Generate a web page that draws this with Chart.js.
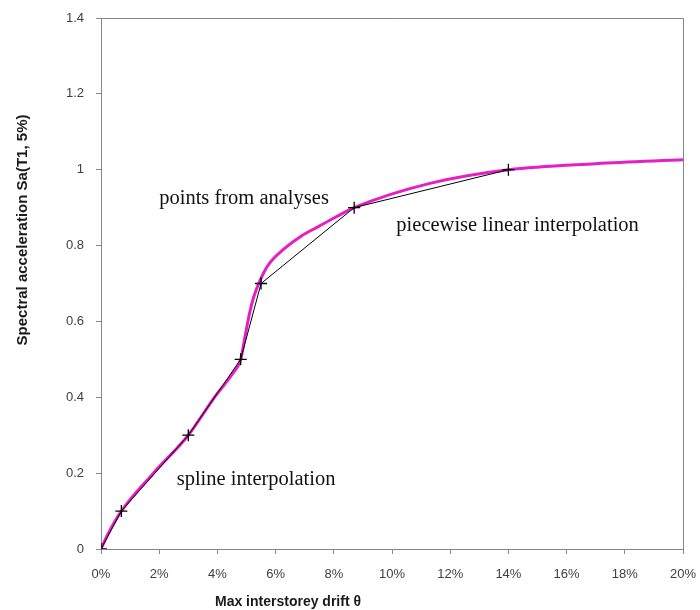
<!DOCTYPE html>
<html>
<head>
<meta charset="utf-8">
<script src="https://cdn.jsdelivr.net/npm/chart.js@4/dist/chart.umd.min.js"></script>
<style>
  body { margin: 0; background: #fff; }
  #wrap { width: 700px; height: 610px; }
</style>
</head>
<body>
<div id="wrap"><canvas id="chart" width="700" height="610"></canvas></div>
<script>
// analysis points (drift in %, Sa in g)
const driftPts = [0, 0.7, 3.0, 4.8, 5.5, 8.7, 14.0];
const saPts = [0, 0.1, 0.3, 0.5, 0.7, 0.9, 1.0];

// spline curve
const splineDrift = [0, 0.25, 0.7, 1.8, 3.0, 3.9, 4.5, 4.8, 4.95, 5.1, 5.25, 5.46, 5.75, 6.32, 6.9, 7.47, 8.04, 8.7, 11.3, 14.0, 17.0, 20.0];
const splineSa = [0, 0.041, 0.1, 0.2, 0.3, 0.4, 0.46, 0.5, 0.56, 0.62, 0.665, 0.707, 0.749, 0.793, 0.826, 0.85, 0.874, 0.9, 0.964, 1.0, 1.016, 1.026];

const xTicks = [0, 2, 4, 6, 8, 10, 12, 14, 16, 18, 20];
const yTicks = [0, 0.2, 0.4, 0.6, 0.8, 1, 1.2, 1.4];

const notes = [
  { text: "points from analyses", x: 2.0, y: 0.91 },
  { text: "piecewise linear interpolation", x: 10.15, y: 0.838 },
  { text: "spline interpolation", x: 2.6, y: 0.169 }
];

const axisGray = "#868686";
const tickFont = { family: "Liberation Sans", size: 13 };

const framePlugin = {
  id: "frame",
  afterDraw(chart) {
    const { ctx, chartArea, scales } = chart;
    ctx.save();
    // top and right border of the plot area
    ctx.strokeStyle = axisGray;
    ctx.lineWidth = 1;
    ctx.beginPath();
    ctx.moveTo(chartArea.left, chartArea.top + 0.5);
    ctx.lineTo(chartArea.right + 0.5, chartArea.top + 0.5);
    ctx.lineTo(chartArea.right + 0.5, chartArea.bottom);
    ctx.stroke();

    // notes
    ctx.fillStyle = "#111";
    ctx.font = "20.5px 'Liberation Serif'";
    ctx.textAlign = "left";
    ctx.textBaseline = "alphabetic";
    notes.forEach(n => {
      ctx.fillText(n.text, scales.x.getPixelForValue(n.x), scales.y.getPixelForValue(n.y));
    });

    // axis titles
    ctx.fillStyle = "#1a1a1a";
    ctx.font = "bold 14px 'Liberation Sans'";
    ctx.textAlign = "center";
    ctx.textBaseline = "middle";
    ctx.fillText("Max interstorey drift \u03b8", 288, 602);
    ctx.font = "bold 15px 'Liberation Sans'";
    ctx.translate(23, 230);
    ctx.rotate(-Math.PI / 2);
    ctx.fillText("Spectral acceleration Sa(T1, 5%)", 0, 0);
    ctx.restore();
  }
};

new Chart(document.getElementById("chart"), {
  type: "line",
  data: {
    datasets: [
      {
        label: "points from analyses",
        data: driftPts.map((d, i) => ({ x: d, y: saPts[i] })),
        borderColor: "#000",
        borderWidth: 1,
        pointStyle: "cross",
        pointRadius: 6,
        pointBorderColor: "#000",
        pointBorderWidth: 1.3,
        tension: 0
      },
      {
        label: "spline interpolation",
        data: splineDrift.map((d, i) => ({ x: d, y: splineSa[i] })),
        borderColor: "#e61ec4",
        borderWidth: 3,
        pointRadius: 0,
        cubicInterpolationMode: "monotone"
      }
    ]
  },
  options: {
    responsive: false,
    animation: false,
    layout: { padding: { top: 18, right: 17, left: 0, bottom: 0 } },
    plugins: {
      legend: { display: false },
      tooltip: { enabled: false }
    },
    scales: {
      x: {
        type: "linear",
        min: 0,
        max: 20,
        afterFit: s => { s.height = 61; s.paddingLeft = 0; s.paddingRight = 0; },
        afterBuildTicks: s => { s.ticks = xTicks.map(v => ({ value: v })); },
        grid: { display: true, drawOnChartArea: false, drawTicks: true, tickLength: 5, color: axisGray },
        border: { color: axisGray },
        ticks: { color: "#404040", font: tickFont, padding: 13, callback: v => v + "%" }
      },
      y: {
        min: 0,
        max: 1.4,
        afterFit: s => { s.width = 101; s.paddingTop = 0; s.paddingBottom = 0; },
        afterBuildTicks: s => { s.ticks = yTicks.map(v => ({ value: v })); },
        grid: { display: true, drawOnChartArea: false, drawTicks: true, tickLength: 5, color: axisGray },
        border: { color: axisGray },
        ticks: { color: "#404040", font: tickFont, padding: 12, callback: v => String(Number(v.toFixed(1))) }
      }
    }
  },
  plugins: [framePlugin]
});
</script>
</body>
</html>
